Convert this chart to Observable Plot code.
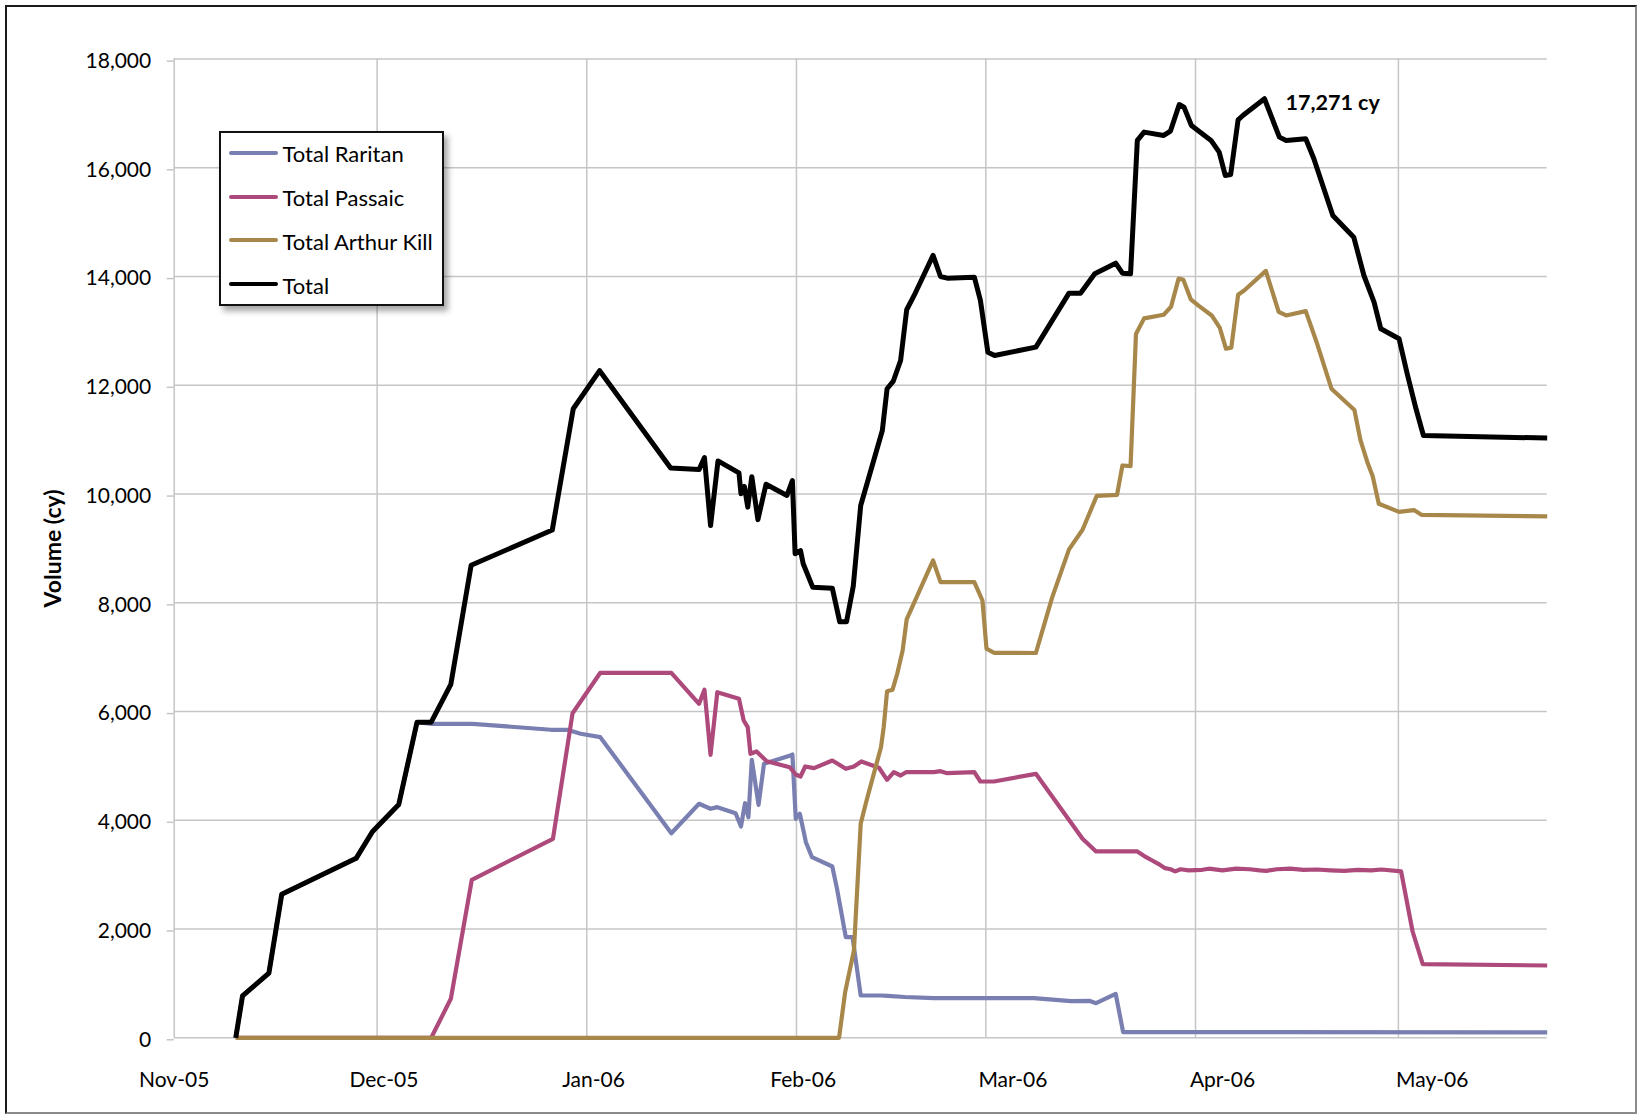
<!DOCTYPE html>
<html><head><meta charset="utf-8">
<script src="https://cdn.jsdelivr.net/npm/d3@7"></script>
<script src="https://cdn.jsdelivr.net/npm/@observablehq/plot@0.6"></script>
<style>
body{margin:0;background:#fff;font-family:Lato,sans-serif;}
#wrap{position:relative;width:1639px;height:1115px;overflow:hidden;background:#fff;}
#chart{position:absolute;left:0;top:0;}
#frame{position:absolute;left:5px;top:5px;width:1628px;height:1105px;border:2px solid #1a1a1a;border-right-color:#8a8a8a;border-bottom-color:#8a8a8a;pointer-events:none;}
#legend{position:absolute;left:219px;top:131px;width:225px;height:175px;box-sizing:border-box;border:2px solid #111;background:#fff;box-shadow:4px 5px 6px rgba(0,0,0,0.35);}
.row{position:absolute;left:0;height:30px;width:220px;}
.sw{position:absolute;left:8px;width:49px;border-radius:2px;}
.lab{position:absolute;left:61.5px;top:3.5px;font-family:Lato,sans-serif;font-size:22px;line-height:26px;color:#000;white-space:nowrap;}
</style></head><body>
<div id="wrap"><div id="chart"></div><div id="legend"></div><div id="frame"></div></div>
<script>
// x values: days since 1 Nov 2005
const raritan = [[9.1,0],[10.1,770],[14.0,1190],[15.9,2640],[26.9,3300],[29.3,3790],[33.2,4290],[35.9,5805],[38.1,5775],[44.1,5775],[55.7,5665],[58.1,5665],[60.1,5591],[63.0,5529],[73.5,3763],[77.6,4304],[79.3,4212],[80.3,4242],[83.0,4131],[83.8,3886],[84.4,4315],[84.9,4058],[85.4,5113],[86.4,4285],[87.2,5039],[91.1,5192],[91.4,5210],[91.9,4028],[92.5,4120],[93.4,3598],[94.3,3322],[97.3,3151],[98.0,2740],[99.3,1850],[100.3,1850],[101.5,778],[104.5,778],[105.5,770],[108.0,750],[112.3,729],[127.1,729],[132.6,674],[135.3,680],[136.3,637],[139.2,809],[140.3,104],[203,100]];
const passaic = [[9.1,0],[38.0,0],[40.9,717],[44.0,2906],[56.0,3660],[58.9,5970],[63.0,6713],[73.5,6713],[77.6,6143],[78.4,6401],[79.3,5205],[80.3,6357],[83.5,6235],[84.2,5836],[84.8,5713],[85.2,5223],[86.1,5266],[87.6,5087],[91.0,4977],[91.9,4843],[92.6,4806],[93.3,4990],[94.6,4959],[97.3,5100],[99.3,4947],[100.5,4990],[101.6,5082],[104.2,4966],[105.4,4745],[106.4,4885],[107.4,4824],[108.2,4885],[112.3,4885],[113.3,4904],[114.3,4867],[118.3,4885],[119.2,4714],[121.2,4714],[127.4,4855],[134.3,3660],[136.3,3427],[142.4,3427],[143.7,3322],[144.4,3274],[145.5,3200],[146.5,3120],[147.3,3100],[148.0,3060],[148.8,3100],[150.0,3080],[152.0,3090],[153.0,3110],[155.0,3080],[157.0,3110],[159.0,3100],[160.5,3080],[161.5,3070],[163.0,3100],[165.0,3110],[167.0,3090],[169.0,3095],[171.0,3080],[173.0,3070],[175.0,3090],[177.0,3080],[178.5,3095],[181.4,3060],[183.1,1955],[184.6,1354],[203,1330]];
const arthurKill = [[9.1,0],[98.3,0],[99.2,839],[100.5,1606],[101.5,3936],[102.3,4334],[104.5,5345],[104.9,5712],[105.4,6375],[106.2,6400],[106.9,6695],[107.7,7123],[108.3,7697],[112.2,8779],[113.3,8380],[118.3,8380],[119.5,8043],[120.1,7158],[121.2,7081],[127.4,7077],[129.8,8096],[132.3,8983],[134.3,9344],[136.4,9967],[139.4,9987],[140.2,10526],[141.4,10513],[142.2,12943],[143.4,13232],[146.3,13298],[147.4,13449],[148.5,13962],[149.2,13941],[150.3,13581],[151.5,13461],[153.4,13285],[154.6,13055],[155.5,12674],[156.3,12694],[157.3,13665],[158.2,13745],[161.4,14105],[163.3,13351],[164.4,13285],[167.3,13364],[169.0,12759],[171.1,11938],[174.5,11545],[175.4,10986],[176.4,10592],[177.2,10329],[178.1,9823],[181.1,9672],[183.3,9706],[184.4,9619],[203,9590]];
const total = [[9.1,0],[10.1,770],[14.0,1190],[15.9,2640],[26.9,3300],[29.3,3790],[33.2,4290],[35.9,5805],[38.0,5805],[40.9,6500],[43.9,8690],[55.9,9340],[59.0,11570],[62.9,12270],[73.4,10480],[77.6,10450],[78.4,10670],[79.3,9420],[80.4,10610],[83.5,10390],[83.8,10005],[84.3,10140],[84.8,9760],[85.4,10320],[86.3,9530],[87.5,10180],[90.6,9975],[91.4,10250],[91.8,8902],[92.6,8960],[93.0,8718],[94.4,8288],[97.3,8270],[98.4,7650],[99.4,7650],[100.4,8306],[101.5,9790],[104.7,11170],[105.4,11937],[106.3,12071],[107.4,12457],[108.3,13390],[109.4,13653],[112.2,14389],[113.3,14002],[114.3,13971],[118.3,13990],[119.2,13561],[120.3,12610],[121.3,12549],[127.4,12702],[132.3,13695],[134.0,13695],[136.1,14052],[139.2,14247],[140.2,14063],[141.4,14052],[142.4,16504],[143.4,16657],[146.3,16596],[147.3,16676],[148.6,17165],[149.3,17116],[150.4,16779],[153.3,16504],[154.5,16289],[155.4,15860],[156.2,15878],[157.3,16884],[158.0,16963],[161.2,17271],[163.4,16565],[164.4,16504],[167.3,16535],[168.5,16167],[171.3,15124],[174.4,14725],[175.9,14020],[177.4,13530],[178.4,13040],[181.1,12856],[182.3,12213],[183.6,11569],[184.7,11078],[203,11030]];

const seriesNames = ["Total Raritan", "Total Passaic", "Total Arthur Kill", "Total"];
const seriesColors = ["#7a7fb2", "#ad4a7b", "#a8874a", "#000000"];
const gridMonths = ["2005-11-01","2005-12-01","2006-01-01","2006-02-01","2006-03-01","2006-04-01","2006-05-01"];
const xTickDates = ["2005-11-01","2005-12-02","2006-01-02","2006-02-02","2006-03-05","2006-04-05","2006-05-06"];
const xTickLabels = ["Nov-05","Dec-05","Jan-06","Feb-06","Mar-06","Apr-06","May-06"];
const yTicks = [0,2000,4000,6000,8000,10000,12000,14000,16000,18000];
const peakLabel = {day: 161.2, value: 17271, text: "17,271 cy"};
const yTitle = "Volume (cy)";

const day0 = Date.UTC(2005, 10, 1);
const toDate = d => new Date(day0 + d * 864e5);
const allSeries = [raritan, passaic, arthurKill, total];
const table = allSeries.flatMap((s, k) => s.map(([d, v]) => ({date: toDate(d), value: v, series: seriesNames[k]})));
const labelMap = new Map(xTickDates.map((s, i) => [+new Date(s), xTickLabels[i]]));

const lines = seriesNames.map((name, k) => Plot.line(table.filter(r => r.series === name), {
  x: "date", y: "value", stroke: seriesColors[k], strokeWidth: k === 3 ? 5 : 4.2,
  strokeLinejoin: "round", strokeLinecap: "butt"
}));

const chart = Plot.plot({
  width: 1639, height: 1115,
  marginLeft: 173.7, marginRight: 92.3, marginTop: 58.6, marginBottom: 77.7,
  style: {fontFamily: "Lato, sans-serif", fontSize: "21px", color: "#000", background: "transparent"},
  x: {type: "utc", domain: [toDate(0), toDate(203)]},
  y: {domain: [0, 18000]},
  marks: [
    Plot.gridX(gridMonths.map(s => new Date(s)), {stroke: "#c6c6c6", strokeOpacity: 1, strokeWidth: 1.5}),
    Plot.gridY(yTicks, {stroke: "#c6c6c6", strokeOpacity: 1, strokeWidth: 1.5}),
    Plot.axisY(yTicks, {tickSize: 7, tickPadding: 16, stroke: "#c6c6c6", strokeWidth: 1.5, tickFormat: d3.format(","), fontSize: 21, dy: 2, label: null}),
    Plot.axisX(xTickDates.map(s => new Date(s)), {tickSize: 0, tickPadding: 34.5, tickFormat: d => labelMap.get(+d), fontSize: 21, label: null}),
    ...lines,
    Plot.text([peakLabel], {x: d => toDate(d.day), y: "value", text: "text", textAnchor: "start", dx: 21, dy: 4, fontWeight: "bold", fontSize: 21.5, fill: "#000"}),
    Plot.text([yTitle], {text: d => d, frameAnchor: "left", textAnchor: "middle", dx: -121, rotate: -90, fontWeight: "bold", fontSize: 23, fill: "#000"})
  ]
});
document.getElementById("chart").appendChild(chart);

// legend
const legend = document.getElementById("legend");
seriesNames.forEach((name, i) => {
  const row = document.createElement("div");
  row.className = "row";
  const center = 19.7 + 43.8 * i; // relative to legend content top
  row.style.top = (center - 15) + "px";
  const sw = document.createElement("div");
  sw.className = "sw";
  const h = i === 3 ? 4.8 : 4;
  sw.style.height = h + "px";
  sw.style.top = (15 - h / 2) + "px";
  sw.style.background = seriesColors[i];
  const lab = document.createElement("div");
  lab.className = "lab";
  lab.textContent = name;
  row.appendChild(sw); row.appendChild(lab);
  legend.appendChild(row);
});
</script></body></html>
